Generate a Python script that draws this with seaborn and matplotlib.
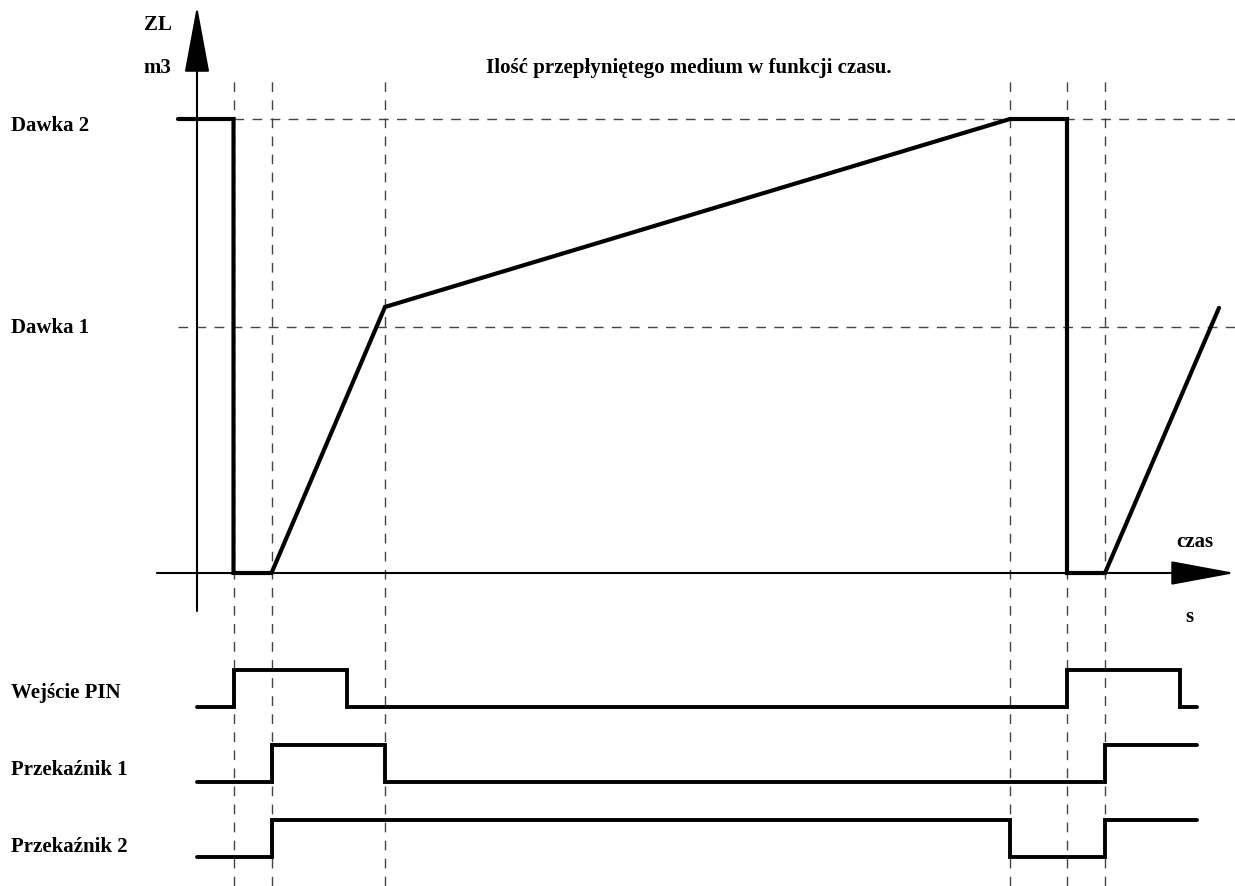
import pandas as pd
import matplotlib.pyplot as plt
import seaborn as sns

#===============================================================
#   TIMING DIAGRAM: FLOW VOLUME VS. INPUT / RELAY STATES
#===============================================================

# Event times (s) and volume levels (m3, Dawka 2 = 100)
dawka_2 = 100.0
dawka_1 = 54.2
event_times = [3.65, 7.45, 18.8, 81.3, 87.0, 90.8]

vol_time = [-1.9, 3.65, 3.65, 7.45, 18.8, 81.3, 87.0, 87.0, 90.8, 102.2]
vol_value = [100, 100, 0, 0, 58.6, 100, 100, 0, 0, 58.4]

pin_time = [0, 3.65, 15.0, 87.0, 98.3, 100.0]
pin_state = [0, 1, 0, 1, 0, 0]
rel1_time = [0, 7.45, 18.8, 90.8, 100.0]
rel1_state = [0, 1, 0, 1, 1]
rel2_time = [0, 7.45, 81.3, 90.8, 100.0]
rel2_state = [0, 1, 0, 1, 1]

signal_names = ["Wejście PIN", "Przekaźnik 1", "Przekaźnik 2"]
level_names = ["Dawka 2", "Dawka 1"]
title = "Ilość przepłyniętego medium w funkcji czasu."

# Layout (pixels of a 1235x886 canvas)
W, H = 1235, 886
X0, Y0 = 197, 573          # origin of the time / volume axes
PX_S, PX_U = 10.0, 4.54    # pixels per second, pixels per m3 unit
sig_base_px = [707, 782, 857]
sig_amp_px = 37


def u(py):
    return (Y0 - py) / PX_U


sns.set_style("white")
plt.rcParams["font.family"] = ["Liberation Serif", "DejaVu Serif"]
plt.rcParams["font.weight"] = "bold"
plt.rcParams["text.color"] = "black"

fig = plt.figure(figsize=(W / 100, H / 100), dpi=100)
ax = fig.add_axes([0, 0, 1, 1])
ax.set_xlim(-X0 / PX_S, (W - X0) / PX_S)
ax.set_ylim(u(H), u(0))
ax.axis("off")

# Guide lines
dash = (0, (7, 6))
ax.vlines(event_times, u(H), u(79), color="#444444", lw=1.0, linestyle=dash)
ax.hlines(dawka_2, event_times[0], (W - X0) / PX_S, color="#444444", lw=1.0, linestyle=dash)
ax.hlines(dawka_1, vol_time[0], (W - X0) / PX_S, color="#444444", lw=1.0, linestyle=dash)

# Axes arrows
ax.annotate("", xy=(0, u(6)), xytext=(0, u(611)), annotation_clip=False,
            arrowprops=dict(arrowstyle="-|>,head_length=4.25,head_width=0.79",
                            mutation_scale=10, lw=1.5, color="black",
                            shrinkA=0, shrinkB=0))
ax.annotate("", xy=((W - X0) / PX_S, 0), xytext=((157 - X0) / PX_S, 0), annotation_clip=False,
            arrowprops=dict(arrowstyle="-|>,head_length=4.1,head_width=0.76",
                            mutation_scale=10, lw=1.5, color="black",
                            shrinkA=0, shrinkB=0))

# Volume curve
vol_df = pd.DataFrame({"time": vol_time, "volume": vol_value})
sns.lineplot(data=vol_df, x="time", y="volume", estimator=None, sort=False,
             color="black", lw=3.0, solid_joinstyle="miter", ax=ax)

# Signals
signals = [(pin_time, pin_state), (rel1_time, rel1_state), (rel2_time, rel2_state)]
for (t, s), base in zip(signals, sig_base_px):
    df = pd.DataFrame({"time": t, "state": s})
    df["y"] = u(base) + df["state"] * sig_amp_px / PX_U
    sns.lineplot(data=df, x="time", y="y", estimator=None, sort=False,
                 drawstyle="steps-post", color="black", lw=2.8,
                 solid_joinstyle="miter", ax=ax)
ax.set_xlabel("")
ax.set_ylabel("")


# Text
def txt(px, py, s, ha="left"):
    fig.text(px / W, 1 - py / H, s, ha=ha, va="baseline", fontsize=15,
             fontweight="bold", color="black")


txt(144, 30, "ZL")
txt(143, 73, "m3")
txt(689, 73, title, ha="center")
txt(1195, 547, "czas", ha="center")
txt(1189, 622, "s", ha="center")
for name, py in zip(level_names, [131, 333]):
    txt(11, py, name)
for name, py in zip(signal_names, [698, 775, 852]):
    txt(11, py, name)

fig.savefig("out.png", dpi=100)
